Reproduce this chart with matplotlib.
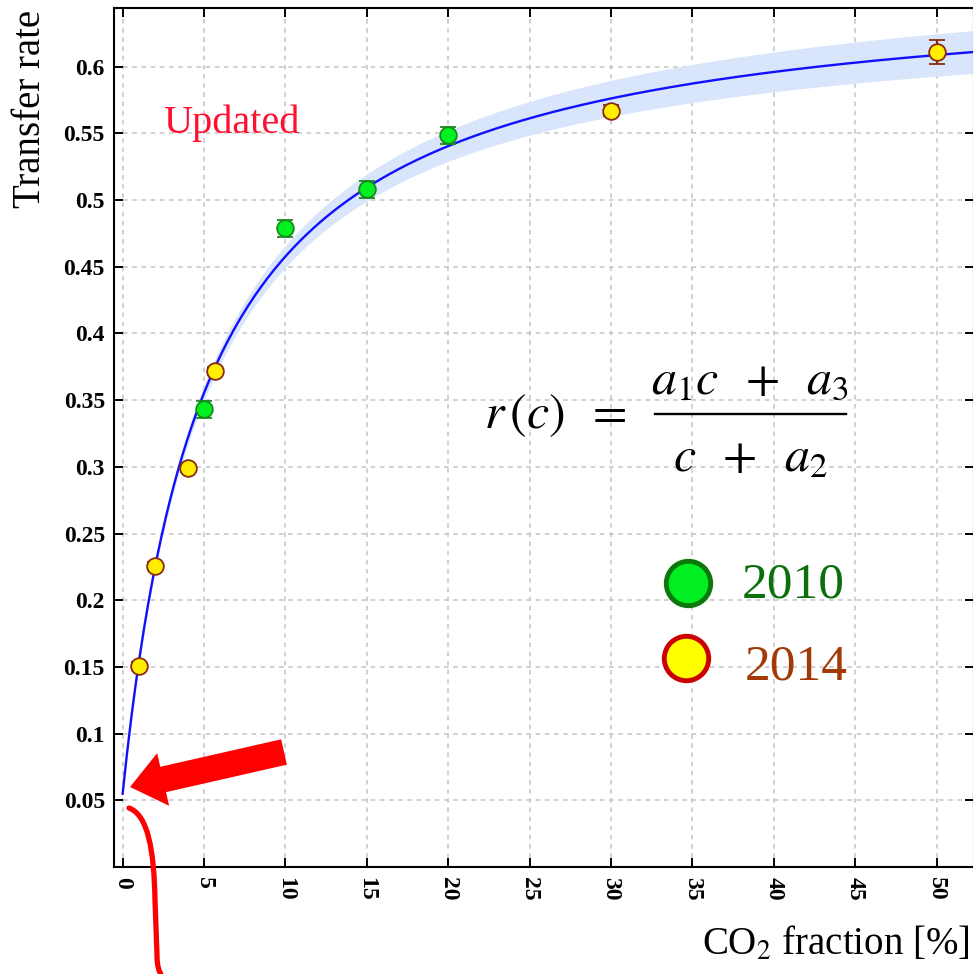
import matplotlib
matplotlib.use("Agg")
import matplotlib.pyplot as plt
import numpy as np
from matplotlib.lines import Line2D
from matplotlib.patches import PathPatch, Polygon
from matplotlib.path import Path
from matplotlib.ticker import FixedLocator, FuncFormatter
from matplotlib.transforms import Affine2D

# measurements
co2_2010 = [5, 10, 15, 20]
rate_2010 = [0.343, 0.479, 0.508, 0.5485]
err_2010 = [0.0064, 0.0064, 0.0064, 0.0064]

co2_2014 = [1, 2, 4, 5.7, 30, 50]
rate_2014 = [0.151, 0.226, 0.2995, 0.372, 0.567, 0.611]
err_2014 = [0.003, 0.003, 0.003, 0.003, 0.004, 0.009]

# fit r(c) = (a1*c + a3) / (c + a2) and its band
a1, a2, a3 = 0.666, 5.17, 0.284
band_k, band_b, band_0 = 0.02, 22.0, 0.002

x_ticks = list(range(0, 55, 5))
y_ticks = [0.05, 0.1, 0.15, 0.2, 0.25, 0.3, 0.35, 0.4, 0.45, 0.5, 0.55, 0.6]

W, H = 973, 974
plt.rcParams["font.family"] = "serif"
plt.rcParams["font.serif"] = ["Liberation Serif", "DejaVu Serif"]
plt.rcParams["mathtext.fontset"] = "stix"

fig = plt.figure(figsize=(W / 100, H / 100), dpi=100)
ax = fig.add_axes([114 / W, 1 - 867 / H, (974 - 114) / W, (867 - 8) / H])
# image pixel coordinates (y down) for annotations
pix = Affine2D().scale(1 / W, -1 / H).translate(0, 1) + fig.transFigure

ax.set_xlim(-0.53, 52.3)
ax.set_ylim(0, 0.644)

c = np.linspace(0, 52.3, 400)
r = (a1 * c + a3) / (c + a2)
w = band_k * c / (c + band_b) + band_0
ax.fill_between(c, r - w, r + w, color="#d8e5fb", lw=0, zorder=1)
ax.plot(c, r, color="#1010ff", lw=1.7, zorder=2)

ax.errorbar(co2_2010, rate_2010, yerr=err_2010, fmt="o", ms=12, mfc="#00f020",
            mec="#1a8a1a", mew=1.3, ecolor="#1a8a1a", elinewidth=1.5,
            capsize=6, capthick=1.5, zorder=3)
ax.errorbar(co2_2014, rate_2014, yerr=err_2014, fmt="o", ms=12, mfc="#ffee00",
            mec="#8a2a10", mew=1.3, ecolor="#8a2a10", elinewidth=1.5,
            capsize=6, capthick=1.5, zorder=3)

ax.xaxis.set_major_locator(FixedLocator(x_ticks))
ax.yaxis.set_major_locator(FixedLocator(y_ticks))
ax.yaxis.set_major_formatter(FuncFormatter(lambda v, p: f"{v:g}"))
ax.tick_params(direction="in", length=6.5, width=1.4, top=True, right=True)
ax.tick_params(axis="y", pad=6.5, labelsize=17)
ax.tick_params(axis="x", pad=7, labelsize=17, labelrotation=270)
for lab in ax.get_yticklabels() + ax.get_xticklabels():
    lab.set_fontweight("bold")
for sp in ax.spines.values():
    sp.set_linewidth(1.5)
ax.grid(True, color="#c4c4c4", ls=(0, (3, 3)), lw=1.1)
ax.set_axisbelow(True)

fig.text(31, 10, "Transfer rate", transform=pix, rotation=90, ha="center",
         va="top", fontsize=28)
fig.text(970, 955, r"CO$_2$ fraction [%]", transform=pix, ha="right",
         va="baseline", fontsize=28)
fig.text(163, 133, "Updated", transform=pix, color="#ff1030", fontsize=29,
         va="baseline")

# formula
fig.text(484, 416, r"$r\,(c)\;\;=$", transform=pix, fontsize=36, va="center")
fig.text(750, 393, r"$a_1c\;\;+\;\;a_3$", transform=pix, fontsize=36,
         ha="center", va="baseline")
fig.text(750, 471, r"$c\;\;+\;\;a_2$", transform=pix, fontsize=36,
         ha="center", va="baseline")
fig.add_artist(Line2D([655, 846], [414, 414], transform=pix, color="black", lw=1.7))

# legend
fig.add_artist(Line2D([688], [583], transform=pix, marker="o", ms=32,
                      mfc="#00ee22", mec="#0a780a", mew=3.5))
fig.add_artist(Line2D([686], [658], transform=pix, marker="o", ms=32,
                      mfc="#ffff00", mec="#cc0000", mew=3.5))
fig.text(742, 598, "2010", transform=pix, color="#0b700b", fontsize=37,
         va="baseline")
fig.text(745, 680, "2014", transform=pix, color="#a23a08", fontsize=37,
         va="baseline")

# red arrow pointing at curve start
tip = np.array([130.0, 787.0])
tail = np.array([284.0, 752.0])
u = (tail - tip) / np.linalg.norm(tail - tip)
n = np.array([-u[1], u[0]])
base = tip + 34 * u
verts = [tip, base + 27 * n, base + 13 * n, tail + 13 * n, tail - 13 * n,
         base - 13 * n, base - 27 * n]
fig.add_artist(Polygon(verts, closed=True, transform=pix, color="#ff0000", lw=0))

hook = Path([(129, 808), (148, 815), (154, 850), (155, 900), (157, 955),
             (157, 966), (159, 972), (162, 976)],
            [Path.MOVETO, Path.CURVE4, Path.CURVE4, Path.CURVE4, Path.LINETO,
             Path.CURVE4, Path.CURVE4, Path.CURVE4])
fig.add_artist(PathPatch(hook, transform=pix, fill=False, ec="#ff0000", lw=3.8,
                         capstyle="round"))

fig.savefig("out.png", dpi=100)
